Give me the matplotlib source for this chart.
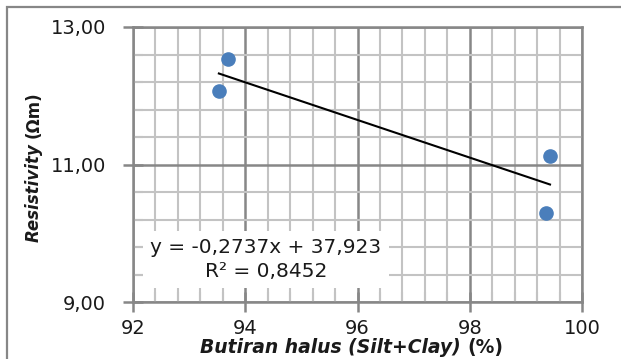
import numpy as np
import matplotlib
matplotlib.use("Agg")
import matplotlib.pyplot as plt
from matplotlib.patches import Rectangle
from matplotlib.ticker import FixedLocator

# data
fines_pct = [93.53, 93.69, 99.43, 99.36]
resistivity = [12.07, 12.53, 11.12, 10.29]
slope = -0.2737
intercept = 37.923
r_squared = 0.8452
x_ticks = [92, 94, 96, 98, 100]
y_ticks = [9.0, 11.0, 13.0]
y_tick_labels = ["9,00", "11,00", "13,00"]

W, H = 621, 359
MAJOR = "#878787"
MINOR = "#c3c3c3"
TXT = "#1a1a1a"

plt.rcParams["font.family"] = ["DejaVu Sans"]
fig = plt.figure(figsize=(W / 100, H / 100), dpi=100)

# outer chart frame (runs off the right/bottom of the crop)
fig.add_artist(Rectangle((7 / W, -0.2), 2.0, 1.2 - 7 / H, transform=fig.transFigure,
                         facecolor="none", edgecolor=MAJOR, linewidth=1.6))
fig.text(3 / W, 1 - 2.5 / H, "data.", fontsize=12, fontweight="bold", va="bottom", color=TXT)


def set_locators(a):
    a.set_xlim(92, 100)
    a.set_ylim(9, 13)
    a.xaxis.set_major_locator(FixedLocator(x_ticks))
    a.yaxis.set_major_locator(FixedLocator(y_ticks))
    a.xaxis.set_minor_locator(FixedLocator(np.linspace(92, 100, 21)))
    a.yaxis.set_minor_locator(FixedLocator(np.linspace(9, 13, 11)))


pos = [133 / W, 1 - 302 / H, (582 - 133) / W, (302 - 27) / H]
ax = fig.add_axes(pos)
set_locators(ax)
ax.grid(which="minor", color=MINOR, linewidth=1.5)
ax.grid(which="major", color=MAJOR, linewidth=1.8)
ax.set_axisbelow(True)
ax.tick_params(which="both", length=0, labelbottom=False, labelleft=False)
for s in ax.spines.values():
    s.set_visible(False)

ax.plot(fines_pct, resistivity, "o", color="#4a7ebb", markersize=9.5, zorder=4)
xs = np.array([min(fines_pct), max(fines_pct)])
ax.plot(xs, slope * xs + intercept, color="black", linewidth=1.5, zorder=3)

eq = f"y = {slope:.4f}x + {intercept:.3f}".replace(".", ",")
r2 = f"R² = {r_squared:.4f}".replace(".", ",")
ax.text(94.37, 9.62, eq + "\n" + r2, ha="center", va="center", fontsize=14.5,
        color=TXT, linespacing=1.3, zorder=1.5,
        bbox=dict(boxstyle="square,pad=0.35", facecolor="white", edgecolor="none"))

# overlay axes carrying ticks, labels and border on top of the label box
ov = fig.add_axes(pos, facecolor="none", zorder=5)
set_locators(ov)
ov.set_yticklabels(y_tick_labels)
ov.tick_params(which="major", direction="inout", length=15, width=1.8, color=MAJOR,
               labelsize=14, labelcolor=TXT)
ov.tick_params(axis="x", which="major", pad=5)
ov.tick_params(axis="y", which="major", pad=12)
ov.tick_params(which="minor", direction="in", length=7, width=1.5, color=MINOR)
for s in ov.spines.values():
    s.set_color(MAJOR)
    s.set_linewidth(1.8)

# axis titles: italic words + upright units
fig.canvas.draw()
r = fig.canvas.get_renderer()
t1 = fig.text(200 / W, 6 / H, "Butiran halus (Silt+Clay) ", fontsize=13.5, fontweight="bold",
              fontstyle="italic", va="baseline", color=TXT)
bb = t1.get_window_extent(r)
fig.text(bb.x1 / W, 6 / H, "(%)", fontsize=13.5, fontweight="bold", va="baseline", color=TXT)

t2 = fig.text(43 / W, (H - 242) / H, "Resistivity ", fontsize=12, fontweight="bold",
              fontstyle="italic", rotation=90, ha="left", va="bottom", color=TXT,
              rotation_mode="anchor")
bb = t2.get_window_extent(r)
fig.text(43 / W, bb.y1 / H, "(Ωm)", fontsize=12, fontweight="bold", rotation=90,
         ha="left", va="bottom", color=TXT, rotation_mode="anchor")

fig.savefig("out.png", dpi=100)
